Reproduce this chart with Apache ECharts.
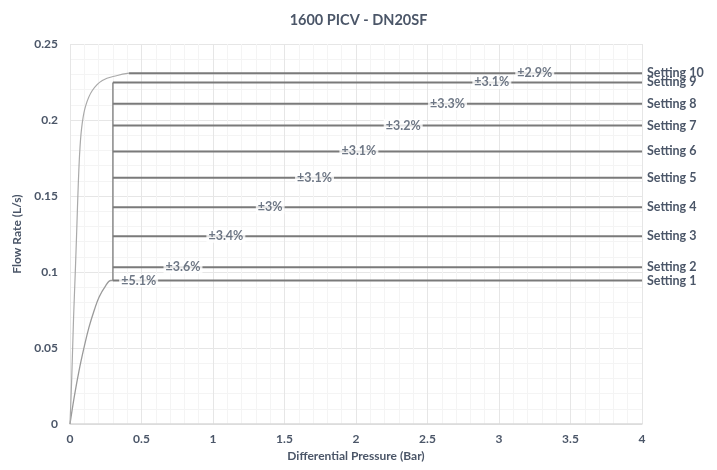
<!DOCTYPE html>
<html>
<head>
<meta charset="utf-8">
<script src="https://cdn.jsdelivr.net/npm/echarts@6/dist/echarts.min.js"></script>
<style>
html,body{margin:0;padding:0;background:#fff;}
#chart{width:717px;height:470px;}
</style>
</head>
<body>
<div id="chart"></div>
<script>
// ---- data ----
var settingNames = ['Setting 1','Setting 2','Setting 3','Setting 4','Setting 5','Setting 6','Setting 7','Setting 8','Setting 9','Setting 10'];
var settingFlow = [0.0944, 0.1032, 0.1236, 0.1426, 0.162, 0.1793, 0.1964, 0.2107, 0.2247, 0.2308];
var settingStartX = [0.3, 0.3, 0.3, 0.3, 0.3, 0.3, 0.3, 0.3, 0.3, 0.413];
var accuracyLabels = ['±5.1%','±3.6%','±3.4%','±3%','±3.1%','±3.1%','±3.2%','±3.3%','±3.1%','±2.9%'];
var accuracyLabelX = [0.48, 0.79, 1.09, 1.40, 1.71, 2.02, 2.33, 2.64, 2.95, 3.25];
var maxPressure = 4;
// rise curves from origin
var curve1X = [0, 0.03, 0.063, 0.1, 0.133, 0.17, 0.203, 0.25, 0.285, 0.3];
var curve1Y = [0, 0.018, 0.035, 0.051, 0.0637, 0.075, 0.0834, 0.0911, 0.0944, 0.0944];
var curve10X = [0, 0.012, 0.025, 0.037, 0.048, 0.058, 0.07, 0.085, 0.11, 0.156, 0.226, 0.331, 0.413];
var curve10Y = [0, 0.03, 0.07, 0.1, 0.13, 0.158, 0.182, 0.1975, 0.2095, 0.2194, 0.226, 0.2293, 0.2308];
var xTicks = [0, 0.5, 1, 1.5, 2, 2.5, 3, 3.5, 4];
var yTicks = [0, 0.05, 0.1, 0.15, 0.2, 0.25];

// ---- chart ----
var textColor = '#4b5668';
var font = 'Lato, "Open Sans", sans-serif';
function zip(a, b){ return a.map(function(v,i){ return [v, b[i]]; }); }

var series = [];
series.push({
  type:'line', name:'curve1', data: zip(curve1X, curve1Y), smooth:0.4, showSymbol:false,
  lineStyle:{color:'#9a9a9a', width:1.3}, silent:true, z:2
});
series.push({
  type:'line', name:'curve10', data: zip(curve10X, curve10Y), smooth:0.4, showSymbol:false,
  lineStyle:{color:'#aaaaaa', width:1.2}, silent:true, z:2
});
series.push({
  type:'line', name:'riser', data: [[settingStartX[0], settingFlow[0]], [settingStartX[8], settingFlow[8]]],
  showSymbol:false, lineStyle:{color:'#8a8a8a', width:1.5}, silent:true, z:2
});
settingFlow.forEach(function(v, i){
  series.push({
    type:'line', name: settingNames[i],
    data: [[settingStartX[i], v], [maxPressure, v]],
    showSymbol:false, silent:true, z:3,
    lineStyle:{color:'#7a7a7a', width:2},
    endLabel:{show:true, formatter: settingNames[i], color:textColor, fontFamily:font,
      fontWeight:'bold', fontSize:12.5, distance:5}
  });
});
series.push({
  type:'scatter', name:'acc', symbolSize:0, silent:true, z:5,
  data: accuracyLabelX.map(function(x,i){ return {value:[x, settingFlow[i]], name:accuracyLabels[i]}; }),
  label:{show:true, position:'inside', formatter:function(p){ return p.name; },
    color:textColor, fontFamily:font, fontWeight:'bold', fontSize:12.5,
    backgroundColor:'#ffffff', padding:[0,2,0,2]}
});

var chart = echarts.init(document.getElementById('chart'), null, {renderer:'canvas'});
chart.setOption({
  animation:false,
  backgroundColor:'#ffffff',
  title:{text:'1600 PICV - DN20SF', left:'center', top:8,
    textStyle:{color:textColor, fontFamily:font, fontWeight:'bold', fontSize:14.5}},
  grid:{left:70, right:75, top:44, bottom:46},
  xAxis:{type:'value', min:xTicks[0], max:xTicks[xTicks.length-1], interval:0.5,
    name:'Differential Pressure (Bar)', nameLocation:'middle', nameGap:20,
    nameTextStyle:{color:textColor, fontFamily:font, fontWeight:'bold', fontSize:12},
    axisLine:{show:true, lineStyle:{color:'#d9d9d9', width:1.5}},
    axisTick:{show:false},
    axisLabel:{color:textColor, fontFamily:font, fontWeight:'bold', fontSize:12, margin:9},
    splitLine:{show:true, lineStyle:{color:'#e6e6e6', width:1}},
    minorTick:{show:false, splitNumber:5},
    minorSplitLine:{show:true, lineStyle:{color:'#f4f4f4', width:1}}
  },
  yAxis:{type:'value', min:yTicks[0], max:yTicks[yTicks.length-1], interval:0.05,
    name:'Flow Rate (L/s)', nameLocation:'middle', nameGap:43, nameRotate:90,
    nameTextStyle:{color:textColor, fontFamily:font, fontWeight:'bold', fontSize:12},
    axisLine:{show:false},
    axisTick:{show:false},
    axisLabel:{color:textColor, fontFamily:font, fontWeight:'bold', fontSize:12, margin:12},
    splitLine:{show:true, lineStyle:{color:'#e6e6e6', width:1}},
    minorTick:{show:false, splitNumber:5},
    minorSplitLine:{show:true, lineStyle:{color:'#f4f4f4', width:1}}
  },
  series: series
});
</script>
</body>
</html>
